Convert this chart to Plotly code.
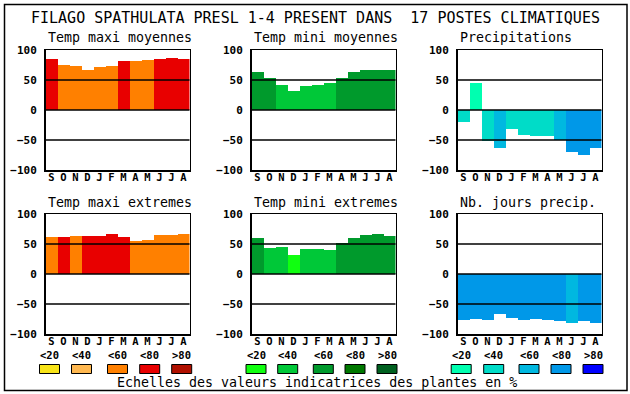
import plotly.graph_objects as go

W, H = 630, 394

# ---------------- data ----------------
months = ["S", "O", "N", "D", "J", "F", "M", "A", "M", "J", "J", "A"]

tmax_moy = [85, 75, 74, 67, 72, 74, 82, 82, 84, 85, 87, 85]
tmax_moy_cls = [3, 2, 2, 2, 2, 2, 3, 2, 2, 3, 3, 3]

tmin_moy = [64, 54, 42, 32, 40, 42, 45, 54, 64, 67, 67, 67]
tmin_moy_cls = [2, 2, 1, 1, 1, 1, 1, 2, 2, 2, 2, 2]

precip = [-20, 45, -52, -64, -32, -41, -44, -43, -50, -70, -75, -64]
precip_cls = [1, 0, 1, 2, 1, 1, 1, 1, 2, 3, 3, 3]

tmax_ext = [62, 62, 64, 64, 64, 67, 62, 55, 57, 65, 65, 67]
tmax_ext_cls = [2, 3, 2, 3, 3, 3, 3, 2, 2, 2, 2, 2]

tmin_ext = [60, 44, 45, 32, 42, 42, 40, 52, 60, 65, 67, 64]
tmin_ext_cls = [2, 1, 1, 0, 1, 1, 1, 2, 2, 2, 2, 2]

jours = [-76, -75, -76, -66, -73, -76, -75, -76, -78, -81, -78, -81]
jours_cls = [3, 3, 3, 3, 3, 3, 3, 3, 3, 2, 3, 3]

class_labels = ["<20", "<40", "<60", "<80", ">80"]
y_ticks = [-100, -50, 0, 50, 100]

title_text = "FILAGO SPATHULATA PRESL 1-4 PRESENT DANS  17 POSTES CLIMATIQUES"
footer_text = "Echelles des valeurs indicatrices des plantes en %"

# ---------------- styles ----------------
warm = ["#F8E418", "#FFB850", "#FF8000", "#E80000", "#B01000"]
green = ["#10FF10", "#00C838", "#009A2C", "#007800", "#006020"]
blue = ["#00FFB0", "#00DCC8", "#00B8E0", "#0098E8", "#0000FF"]

MONO = "DejaVu Sans Mono"

panels = [
    ("Temp maxi moyennes", tmax_moy, tmax_moy_cls, warm),
    ("Temp mini moyennes", tmin_moy, tmin_moy_cls, green),
    ("Precipitations", precip, precip_cls, blue),
    ("Temp maxi extremes", tmax_ext, tmax_ext_cls, warm),
    ("Temp mini extremes", tmin_ext, tmin_ext_cls, green),
    ("Nb. jours precip.", jours, jours_cls, blue),
]

col_px = [(45.5, 189.5), (251.5, 395.5), (457.5, 601.5)]
row_px = [(50, 170), (214, 334)]


def px(x):
    return x / W


def py(y):
    return 1 - y / H


fig = go.Figure()
shapes = []
annotations = []

for i, (name, vals, cls, pal) in enumerate(panels):
    r, c = divmod(i, 3)
    k = "" if i == 0 else str(i + 1)
    xa, ya = "x" + k, "y" + k
    fig.add_trace(go.Bar(
        x=list(range(len(months))), y=vals,
        marker=dict(color=[pal[v] for v in cls], line=dict(width=0)),
        width=1.0, xaxis=xa, yaxis=ya, showlegend=False, hoverinfo="skip",
    ))
    x0, x1 = col_px[c]
    y0, y1 = row_px[r]
    fig.layout["xaxis" + k] = dict(
        domain=[px(x0), px(x1)], anchor=ya, range=[-0.5, 11.5],
        tickmode="array", tickvals=list(range(12)), ticktext=months,
        showgrid=False, zeroline=False, showline=True, mirror=True,
        linecolor="black", linewidth=1.5, ticks="", fixedrange=True,
        automargin=False, ticklabelstandoff=-3,
        tickfont=dict(family=MONO, size=10.5, color="black", weight="bold"),
    )
    fig.layout["yaxis" + k] = dict(
        domain=[py(y1), py(y0)], anchor=xa, range=[-100, 100],
        tickmode="array", tickvals=y_ticks,
        showgrid=False, zeroline=False, showline=True, mirror=True,
        linecolor="black", linewidth=1.5, ticks="", fixedrange=True,
        automargin=False, ticklabelstandoff=5,
        tickfont=dict(family=MONO, size=11, color="black", weight="bold"),
    )
    for lv in (-50, 0, 50):
        shapes.append(dict(type="line", xref=xa + " domain", yref=ya,
                           x0=0, x1=1, y0=lv, y1=lv, layer="above",
                           line=dict(color="black", width=1.5)))
    annotations.append(dict(
        text=name, xref="paper", yref="paper", x=px(x0 + 0.5), y=py(y0 - 12),
        xanchor="left", yanchor="middle", showarrow=False,
        font=dict(family=MONO, size=13.3, color="black"),
    ))

# legend swatches
sw_centers = [
    [49.5, 81.5, 117.5, 149.7, 181.7],
    [256.0, 287.7, 323.3, 355.0, 387.0],
    [461.2, 493.7, 529.0, 561.0, 593.0],
]
for g, pal in enumerate([warm, green, blue]):
    for j, cx in enumerate(sw_centers[g]):
        shapes.append(dict(type="rect", xref="paper", yref="paper",
                           x0=px(cx - 10), x1=px(cx + 10), y0=py(373.5), y1=py(364.5),
                           fillcolor=pal[j], line=dict(color="black", width=1)))
        annotations.append(dict(
            text=class_labels[j].replace("<", "&lt;").replace(">", "&gt;"),
            xref="paper", yref="paper", x=px(cx), y=py(355),
            xanchor="center", yanchor="middle", showarrow=False,
            font=dict(family=MONO, size=10.5, color="black", weight="bold"),
        ))

annotations.append(dict(text=title_text.replace(" ", "&nbsp;"), xref="paper", yref="paper",
                        x=px(315), y=py(18), xanchor="center", yanchor="middle",
                        showarrow=False, font=dict(family=MONO, size=15, color="black")))
annotations.append(dict(text=footer_text, xref="paper", yref="paper",
                        x=px(317), y=py(382), xanchor="center", yanchor="middle",
                        showarrow=False, font=dict(family=MONO, size=13.3, color="black")))

# outer frame
shapes.append(dict(type="rect", xref="paper", yref="paper",
                   x0=px(4.5), x1=px(627), y0=py(390.5), y1=py(4.5),
                   line=dict(color="black", width=1.5), layer="below"))

fig.update_layout(
    width=W, height=H, margin=dict(l=0, r=0, t=0, b=0, autoexpand=False),
    paper_bgcolor="white", plot_bgcolor="white",
    bargap=0, shapes=shapes, annotations=annotations,
)

fig.write_html(
    "out.html",
    config={"displayModeBar": False, "staticPlot": True},
    post_script="document.body.style.margin='0';document.body.style.padding='0';",
)
